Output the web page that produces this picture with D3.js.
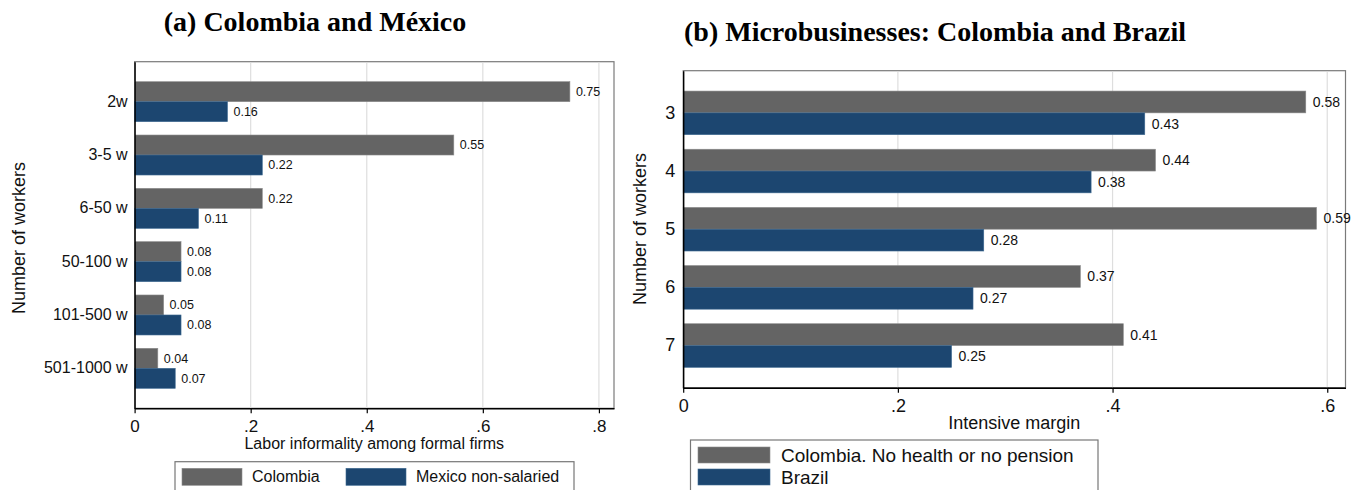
<!DOCTYPE html>
<html>
<head>
<meta charset="utf-8">
<script src="https://cdn.jsdelivr.net/npm/d3@7"></script>
<style>
  html, body { margin: 0; padding: 0; background: #fff; }
  svg { display: block; }
  text { font-family: "Liberation Sans", Arial, Helvetica, sans-serif; fill: #111; }
  .title { font-family: "Liberation Serif", "Times New Roman", serif; font-weight: bold; fill: #000; }
</style>
</head>
<body>
<svg id="chart" width="1366" height="490"></svg>
<script>
// ---- Panel (a): Colombia and México ----
const categoriesA = ["2w", "3-5 w", "6-50 w", "50-100 w", "101-500 w", "501-1000 w"];
const colombiaA = [0.75, 0.55, 0.22, 0.08, 0.05, 0.04];
const mexicoA = [0.16, 0.22, 0.11, 0.08, 0.08, 0.07];
const ticksA = [0, 0.2, 0.4, 0.6, 0.8];
const seriesNamesA = ["Colombia", "Mexico non-salaried"];

// ---- Panel (b): Microbusinesses, Colombia and Brazil ----
const categoriesB = ["3", "4", "5", "6", "7"];
const colombiaB = [0.58, 0.44, 0.59, 0.37, 0.41];
const brazilB = [0.43, 0.38, 0.28, 0.27, 0.25];
const ticksB = [0, 0.2, 0.4, 0.6];
const seriesNamesB = ["Colombia. No health or no pension", "Brazil"];

const GRAY = "#646464";
const NAVY = "#1c4670";

const svg = d3.select("#chart");
const fmtTick = v => v === 0 ? "0" : d3.format(".1f")(v).replace(/^0/, "");

function drawPanel(cfg) {
  const g = svg.append("g");
  const x = d3.scaleLinear().domain([0, cfg.xMax]).range([cfg.left, cfg.right]);
  const y = d3.scaleBand().domain(cfg.categories).range([cfg.top, cfg.bottom])
    .paddingInner(0.25).paddingOuter(cfg.outer);
  const sub = d3.scaleBand().domain([0, 1]).range([0, y.bandwidth()]);

  // frame
  g.append("rect").attr("x", cfg.left).attr("y", cfg.top)
    .attr("width", cfg.right - cfg.left).attr("height", cfg.bottom - cfg.top)
    .attr("fill", "none").attr("stroke", "#7a7a7a").attr("stroke-width", 1.2);

  // vertical grid lines
  g.selectAll(".grid").data(cfg.ticks.filter(t => t > 0)).join("line")
    .attr("x1", d => x(d)).attr("x2", d => x(d))
    .attr("y1", cfg.top + 1).attr("y2", cfg.bottom)
    .attr("stroke", "#dedede").attr("stroke-width", 1.2);

  // bars
  const rows = cfg.categories.map((c, i) => ({ c, vals: [cfg.s1[i], cfg.s2[i]] }));
  const grp = g.selectAll(".grp").data(rows).join("g")
    .attr("transform", d => `translate(0,${y(d.c)})`);
  grp.selectAll("rect").data(d => d.vals).join("rect")
    .attr("x", x(0)).attr("y", (d, i) => sub(i))
    .attr("width", d => x(d) - x(0)).attr("height", sub.bandwidth())
    .attr("fill", (d, i) => i === 0 ? GRAY : NAVY)
    .attr("stroke", (d, i) => i === 0 ? "#8c8c8c" : "#3f6a92").attr("stroke-width", 0.6);
  grp.selectAll("text").data(d => d.vals).join("text")
    .attr("x", d => x(d) + cfg.labelGap).attr("y", (d, i) => sub(i) + sub.bandwidth() / 2)
    .attr("dy", "0.35em").attr("font-size", cfg.valueSize)
    .text(d => d3.format(".2f")(d));

  // x axis
  const xAxis = d3.axisBottom(x).tickValues(cfg.ticks).tickFormat(fmtTick).tickSize(5).tickSizeOuter(0);
  const ax = g.append("g").attr("transform", `translate(0,${cfg.bottom})`).call(xAxis);
  ax.select(".domain").attr("stroke", "#000").attr("stroke-width", 1.4);
  ax.selectAll(".tick line").attr("stroke", "#000").attr("stroke-width", 1.2);
  ax.selectAll(".tick text").attr("font-size", cfg.tickSize).attr("fill", "#111")
    .attr("font-family", null).attr("dy", null).attr("y", cfg.tickDy);

  // y axis
  const yAxis = d3.axisLeft(y).tickSize(0).tickPadding(cfg.catPad);
  const ay = g.append("g").attr("transform", `translate(${cfg.left},0)`).call(yAxis);
  ay.select(".domain").attr("stroke", "#000").attr("stroke-width", 1.4);
  ay.selectAll(".tick text").attr("font-size", cfg.catSize).attr("fill", "#111").attr("font-family", null);

  // axis titles
  g.append("text").attr("x", (cfg.left + cfg.right) / 2).attr("y", cfg.xTitleY)
    .attr("text-anchor", "middle").attr("font-size", cfg.axisTitleSize).text(cfg.xTitle);
  g.append("text")
    .attr("transform", `translate(${cfg.yTitleX},${cfg.yTitleMid}) rotate(-90)`)
    .attr("text-anchor", "middle").attr("font-size", cfg.yTitleSize).text("Number of workers");

  // panel title
  g.append("text").attr("class", "title").attr("x", cfg.titleX).attr("y", cfg.titleY)
    .attr("text-anchor", "middle").attr("font-size", cfg.titleSize).text(cfg.title);

  // legend
  const L = cfg.legend;
  g.append("rect").attr("x", L.x).attr("y", L.y).attr("width", L.w).attr("height", 60)
    .attr("fill", "#fff").attr("stroke", "#777").attr("stroke-width", 1.2);
  const items = g.selectAll(".leg").data(cfg.names).join("g")
    .attr("transform", (d, i) => `translate(${L.items[i][0]},${L.items[i][1]})`);
  items.append("rect").attr("width", L.sw).attr("height", L.sh)
    .attr("fill", (d, i) => i === 0 ? GRAY : NAVY)
    .attr("stroke", (d, i) => i === 0 ? "#8c8c8c" : "#3f6a92").attr("stroke-width", 0.6);
  items.append("text").attr("x", L.sw + L.gap).attr("y", L.sh / 2).attr("dy", "0.35em")
    .attr("font-size", L.size).text(d => d);
}

drawPanel({
  categories: categoriesA, s1: colombiaA, s2: mexicoA, ticks: ticksA, names: seriesNamesA,
  left: 134.6, right: 614, top: 61.7, bottom: 408.3, xMax: 0.826, outer: 0.375,
  labelGap: 6, valueSize: 12.5, tickSize: 17, tickDy: 24, catSize: 16, catPad: 7,
  axisTitleSize: 16, xTitleY: 449, yTitleX: 25, yTitleMid: 238, yTitleSize: 18,
  xTitle: "Labor informality among formal firms",
  title: "(a) Colombia and México", titleX: 315, titleY: 31, titleSize: 28,
  legend: { x: 175, y: 461.7, w: 399, sw: 60, sh: 17, gap: 10, size: 16,
            items: [[182, 468.3], [346, 468.3]] }
});

drawPanel({
  categories: categoriesB, s1: colombiaB, s2: brazilB, ticks: ticksB, names: seriesNamesB,
  left: 683.2, right: 1345.5, top: 70.7, bottom: 387.7, xMax: 0.617, outer: 0.35,
  labelGap: 7, valueSize: 14, tickSize: 18, tickDy: 24, catSize: 18, catPad: 8,
  axisTitleSize: 18, xTitleY: 429, yTitleX: 646, yTitleMid: 229, yTitleSize: 18,
  xTitle: "Intensive margin",
  title: "(b) Microbusinesses: Colombia and Brazil", titleX: 935, titleY: 41, titleSize: 28,
  legend: { x: 690.5, y: 440, w: 407.5, sw: 72, sh: 16, gap: 11, size: 19,
            items: [[698, 447], [698, 469]] }
});
</script>
</body>
</html>
